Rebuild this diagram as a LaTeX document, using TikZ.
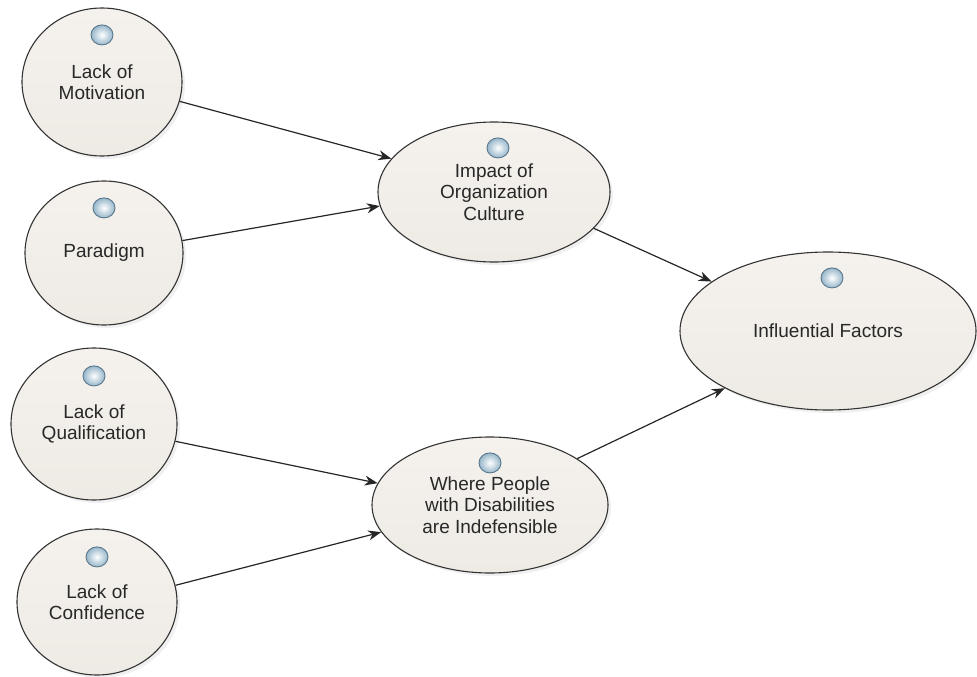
\documentclass[tikz,border=0pt]{standalone}
\usepackage{fontspec}
\setmainfont{Liberation Sans}
\usetikzlibrary{positioning,shapes.geometric,arrows.meta,shadows}
\definecolor{factorfill}{RGB}{245,242,238}
\definecolor{factorbottom}{RGB}{238,234,228}
\definecolor{bulbblue}{RGB}{150,182,202}
\definecolor{bulbedge}{RGB}{90,120,140}
\definecolor{textgray}{RGB}{40,40,40}

\begin{document}
\begin{tikzpicture}[x=1pt, y=-1pt, on grid, semithick,
            factor/.style ={ellipse, draw=black!80, line width=1.1pt, top color=factorfill,
            bottom color=factorbottom, text=textgray, align=center, inner sep=0pt,
            font=\fontsize{19}{21.5}\selectfont,
            drop shadow={opacity=0.12, shadow xshift=3pt, shadow yshift=-3pt}},
            bulb/.style ={ellipse, draw=bulbedge, line width=0.9pt, inner color=white,
            outer color=bulbblue, minimum width=22pt, minimum height=20pt, inner sep=0pt},
            link/.style ={-{Stealth[length=13pt, width=10pt]}, line width=1.2pt, black!85}]

        \useasboundingbox (0,0) rectangle (977,677);

        %factores de la izquierda
        \node[factor, minimum width=160pt, minimum height=148pt] (motivation) at (102, 82) {Lack of\\Motivation};
        \node[factor, minimum width=158pt, minimum height=144pt] (paradigm) at (104, 253) {Paradigm};
        \node[factor, minimum width=166pt, minimum height=152pt] (qualification) at (94, 424) {Lack of\\Qualification};
        \node[factor, minimum width=160pt, minimum height=146pt] (confidence) at (97, 602) {Lack of\\Confidence};

        %factores intermedios y final
        \node[factor, minimum width=232pt, minimum height=140pt] (impact) at (494, 192) {Impact of\\Organization\\Culture};
        \node[factor, minimum width=236pt, minimum height=136pt] (where) at (490, 505) {Where People\\with Disabilities\\are Indefensible};
        \node[factor, minimum width=296pt, minimum height=158pt] (influential) at (828, 331) {Influential Factors};

        %iconos
        \node[bulb, below=17pt of motivation.north] (motivation-bulb) {};
        \node[bulb, below=17pt of paradigm.north] (paradigm-bulb) {};
        \node[bulb, below=18pt of qualification.north] (qualification-bulb) {};
        \node[bulb, below=18pt of confidence.north] (confidence-bulb) {};
        \node[bulb, below=16pt of impact.north, xshift=4pt] (impact-bulb) {};
        \node[bulb, below=16pt of where.north] (where-bulb) {};
        \node[bulb, below=16pt of influential.north, xshift=4pt] (influential-bulb) {};

        \path (motivation.-14) edge [link] (impact.162);
        \path (paradigm.9) edge [link] (impact.187);

        \path (qualification.-12) edge [link] (where.169);
        \path (confidence.12) edge [link] (where.194);

        \path (impact.-20) edge [link] (influential.157);
        \path (where.28) edge [link] (influential.209);

    \end{tikzpicture}
\end{document}
